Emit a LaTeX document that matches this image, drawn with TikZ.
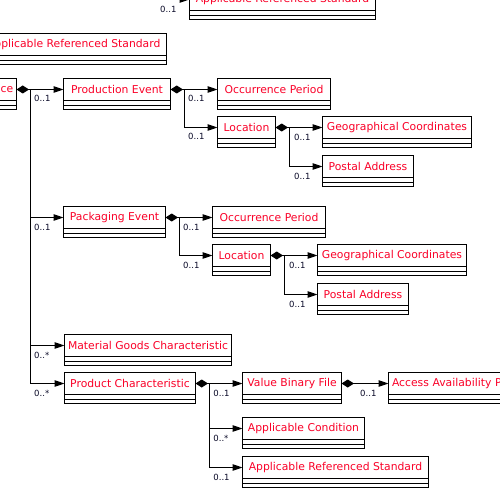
\documentclass[tikz,border=0pt]{standalone}
\usepackage{fontspec}
\setmainfont{DejaVu Sans}
\usetikzlibrary{arrows.meta,calc}
\definecolor{clsred}{RGB}{250,0,40}
\definecolor{multc}{RGB}{10,10,40}
\begin{document}
\begin{tikzpicture}[x=1pt,y=-1pt,
  cls/.style={draw=black, line width=1pt, minimum height=22pt, inner xsep=0pt, inner ysep=0pt, outer sep=0pt,
    anchor=north west, text=clsred, font=\fontsize{10.8}{12}\selectfont},
  comp/.style={line width=1pt, draw=black, {Diamond[length=12.5pt,width=8pt]}-{Triangle[length=10pt,width=6.5pt]}},
  conn/.style={line width=1pt, draw=black, -{Triangle[length=10pt,width=6.5pt]}},
  mult/.style={anchor=west, inner sep=0pt, text=multc, font=\fontsize{8.5}{10}\selectfont}
]
\useasboundingbox (0,0) rectangle (500,500);
\clip (0,0) rectangle (500,500);
\fill[white] (0,0) rectangle (500,500);

% class box: name, left, right, top, text
\newcommand{\clsbox}[5]{%
  \node[cls, minimum width={#3-#2}] (#1) at (#2,#4) {#5};
  \draw[line width=1pt] (#1.south west) rectangle ($(#1.south east)+(0,9)$);
  \draw[line width=1pt] ($(#1.south west)+(0,5)$) -- ($(#1.south east)+(0,5)$);
}

\clsbox{ars1}{189.5}{375.5}{-11.5}{Applicable Referenced Standard}
\clsbox{ars2}{-19}{166.5}{33.5}{Applicable Referenced Standard}
\node[cls, minimum width=116.5pt, text width=110pt, align=right] (root) at (-100,78.5) {ce};
\draw[line width=1pt] (root.south west) rectangle ($(root.south east)+(0,9)$);
\draw[line width=1pt] ($(root.south west)+(0,5)$) -- ($(root.south east)+(0,5)$);
\clsbox{pe}{63.5}{170.5}{78.5}{Production Event}
\clsbox{op1}{217.5}{330.5}{78.5}{Occurrence Period}
\clsbox{loc1}{217.5}{275.5}{116.5}{Location}
\clsbox{gc1}{322.5}{471.5}{116.5}{Geographical Coordinates}
\clsbox{pa1}{322.5}{413.5}{155.5}{Postal Address}
\clsbox{pke}{63.5}{165.5}{206.5}{Packaging Event}
\clsbox{op2}{212.5}{325.5}{206.5}{Occurrence Period}
\clsbox{loc2}{212.5}{270.5}{244.5}{Location}
\clsbox{gc2}{317.5}{466.5}{244.5}{Geographical Coordinates}
\clsbox{pa2}{317.5}{408.5}{283.5}{Postal Address}
\clsbox{mgc}{64.5}{231.5}{334.5}{Material Goods Characteristic}
\clsbox{pc}{64.5}{195.5}{372.5}{Product Characteristic}
\clsbox{vbf}{242.5}{341.5}{372.5}{Value Binary File}
\clsbox{ac}{242.5}{364.5}{417.5}{Applicable Condition}
\clsbox{ars3}{242.5}{428.5}{456.5}{Applicable Referenced Standard}
\node[cls, minimum width=211.5pt, text width=204.5pt, align=left] (aap) at (388.5,372.5) {Access Availability P};
\draw[line width=1pt] (aap.south west) rectangle ($(aap.south east)+(0,9)$);
\draw[line width=1pt] ($(aap.south west)+(0,5)$) -- ($(aap.south east)+(0,5)$);

% top incoming connector
\coordinate (topj) at (140,-0.5);
\draw[conn] (topj) -- (ars1.west);
\node[mult] at (160,9.5) {0..1};

% root
\draw[comp] (root.east) -- (pe.west);
\coordinate (rootv) at ($(root.east)+(14,0)$);
\draw[conn] (rootv) |- (pke.west);
\draw[conn] (rootv) |- (mgc.west);
\draw[conn] (rootv) |- (pc.west);
\node[mult] at ($(rootv |- pe.west)+(3.5,9.3)$) {0..1};
\node[mult] at ($(rootv |- pke.west)+(3.5,9.8)$) {0..1};
\node[mult] at ($(rootv |- mgc.west)+(3.5,9.8)$) {0..*};
\node[mult] at ($(rootv |- pc.west)+(3.5,9.8)$) {0..*};

% production event
\draw[comp] (pe.east) -- (op1.west);
\coordinate (pev) at ($(pe.east)+(14,0)$);
\draw[conn] (pev) |- (loc1.west);
\node[mult] at ($(pev)+(3.5,9.3)$) {0..1};
\node[mult] at ($(pev |- loc1.west)+(3.5,9.3)$) {0..1};

% location 1
\draw[comp] (loc1.east) -- (gc1.west);
\coordinate (l1v) at ($(loc1.east)+(14,0)$);
\draw[conn] (l1v) |- (pa1.west);
\node[mult] at ($(l1v)+(4.5,9.8)$) {0..1};
\node[mult] at ($(l1v |- pa1.west)+(4.5,9.8)$) {0..1};

% packaging event
\draw[comp] (pke.east) -- (op2.west);
\coordinate (pkv) at ($(pke.east)+(14,0)$);
\draw[conn] (pkv) |- (loc2.west);
\node[mult] at ($(pkv)+(3.5,10)$) {0..1};
\node[mult] at ($(pkv |- loc2.west)+(3.5,10)$) {0..1};

% location 2
\draw[comp] (loc2.east) -- (gc2.west);
\coordinate (l2v) at ($(loc2.east)+(14,0)$);
\draw[conn] (l2v) |- (pa2.west);
\node[mult] at ($(l2v)+(4.5,10)$) {0..1};
\node[mult] at ($(l2v |- pa2.west)+(4.5,10)$) {0..1};

% product characteristic
\draw[comp] (pc.east) -- (vbf.west);
\coordinate (pcv) at ($(pc.east)+(14,0)$);
\draw[conn] (pcv) |- (ac.west);
\draw[conn] (pcv) |- (ars3.west);
\node[mult] at ($(pcv)+(3.7,10)$) {0..1};
\node[mult] at ($(pcv |- ac.west)+(3.7,10)$) {0..*};
\node[mult] at ($(pcv |- ars3.west)+(3.7,10)$) {0..1};

% value binary file
\draw[comp] (vbf.east) -- (aap.west);
\node[mult] at ($(vbf.east)+(18.5,10)$) {0..1};
\end{tikzpicture}
\end{document}
